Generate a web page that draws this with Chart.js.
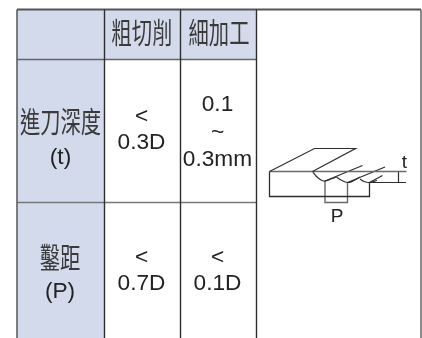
<!DOCTYPE html>
<html><head><meta charset="utf-8">
<style>html,body{margin:0;padding:0;background:#fff}canvas{display:block}</style>
<script src="https://cdn.jsdelivr.net/npm/chart.js@4"></script></head>
<body><canvas id="c" width="422" height="338"></canvas>
<script>
// table structure, in reference units
const columnEdges=[17,104.5,180.5,256.5,421];
const rowEdges=[9.5,59.5,202.5,338];
const headerRow=['粗切削','細加工'];
const rowLabels=[['進刀深度','(t)'],['鑿距','(P)']];
const roughValues=[['<','0.3D'],['<','0.7D']];
const fineValues=[['0.1','~','0.3mm'],['<','0.1D']];
const shadeOutline=[[17,9.5],[256.5,9.5],[256.5,59.5],[104.5,59.5],[104.5,338],[17,338],[17,9.5]];
// diagram outlines
const bladeTop=[[269.5,171.5],[314.5,148.5],[355.5,148.5],[312.5,171.5]];
const surface=[[269.5,171.5],[406.5,171.5]];
const body=[[269.5,171.5],[269.5,196.5],[369.5,196.5],[369.5,182.5]];
const depthLine=[[369.5,182.5],[406,182.5]];
const depthArrow=[[398.5,171.5],[398.5,182.5]];
const cut1=[[312.5,171.5],[316,176],[321,180],[325,181],[331,179],[336.5,177]];
const cut2=[[336.5,177],[341,180],[347.5,182.5],[353,181],[360,177]];
const cut3=[[360,179],[364,181.5],[369.5,182.5],[377,180.5]];
const tool1=[[325,181],[362.5,165.5]];
const tool2=[[347.5,182.5],[385,167]];
const tool3=[[369.5,182.5],[382.5,175.5]];
const pLeft=[[325,181],[325,202.5],[347.5,202.5],[347.5,182.5]];

const ink='#2e2e2e', grey='#6a6a6a';
function pts(a){return a.map(p=>({x:p[0],y:p[1]}));}
function line(a,color,w,t){return {type:'scatter',data:pts(a),showLine:true,borderColor:color,borderWidth:w,pointRadius:0,tension:t||0,fill:false,order:1};}
const datasets=[
 {type:'scatter',data:pts(shadeOutline),showLine:true,borderWidth:0,borderColor:'transparent',backgroundColor:'#d3daec',pointRadius:0,fill:'shape',order:9},
 line([[columnEdges[0],rowEdges[0]],[columnEdges[0],rowEdges[3]]],'#555',1.5),
 line([[columnEdges[1],rowEdges[0]],[columnEdges[1],rowEdges[3]]],ink,1.4),
 line([[columnEdges[2],rowEdges[0]],[columnEdges[2],rowEdges[3]]],ink,1.4),
 line([[columnEdges[3],rowEdges[0]],[columnEdges[3],rowEdges[3]]],ink,1.4),
 line([[columnEdges[4],rowEdges[0]],[columnEdges[4],rowEdges[3]]],'#666',1.5),
 line([[columnEdges[0],rowEdges[0]],[columnEdges[4],rowEdges[0]]],'#555',1.8),
 line([[columnEdges[0],rowEdges[1]],[columnEdges[3],rowEdges[1]]],'#666',1.4),
 line([[columnEdges[0],rowEdges[2]],[columnEdges[3],rowEdges[2]]],'#777',1.5),
 line(bladeTop,ink,1.2),line(surface,grey,1.4),line(body,ink,1.3),line(depthLine,ink,1.2),line(depthArrow,ink,1.2),
 line(cut1,ink,1.2,.4),line(cut2,ink,1.2,.4),line(cut3,ink,1.2,.4),line(tool1,ink,1.2),line(tool2,ink,1.2),line(tool3,ink,1.2),line(pLeft,grey,1.4)
];
const latin='"Liberation Sans"', cjk='"Noto Sans CJK TC"';
const textItems=[
 {t:headerRow[0],x:142,y:33,cjk:1},{t:headerRow[1],x:219,y:33,cjk:1},
 {t:rowLabels[0][0],x:60.5,y:122,cjk:1},{t:rowLabels[0][1],x:60.5,y:158},
 {t:rowLabels[1][0],x:60,y:258,cjk:1},{t:rowLabels[1][1],x:60,y:292},
 {t:roughValues[0][0],x:141.5,y:117},{t:roughValues[0][1],x:141.5,y:143},
 {t:roughValues[1][0],x:141.5,y:258},{t:roughValues[1][1],x:141.5,y:284},
 {t:fineValues[0][0],x:217.5,y:105},{t:fineValues[0][1],x:217.5,y:133},{t:fineValues[0][2],x:217.5,y:160},
 {t:fineValues[1][0],x:217.5,y:258},{t:fineValues[1][1],x:217.5,y:284},
 {t:'P',x:337,y:217,small:1},{t:'t',x:404.5,y:163,small:1}
];
const tablePlugin={id:'tableText',afterDatasetsDraw(ch){
 const c=ch.ctx,X=ch.scales.x,Y=ch.scales.y;
 textItems.forEach(i=>{
  c.save();
  c.translate(X.getPixelForValue(i.x),Y.getPixelForValue(i.y));
  const sx=i.cjk?0.7:(i.small?1.0:1.03);
  c.scale(sx,1);
  c.font=i.cjk?('29px '+cjk):(i.small?'19px '+latin:'22px '+latin);
  c.fillStyle=i.cjk?'#3a3a3a':'#222';
  c.textAlign='center';c.textBaseline='middle';
  c.fillText(i.t,0,0);
  c.restore();
 });
}};
new Chart(document.getElementById('c'),{
 type:'scatter',data:{datasets},plugins:[tablePlugin],
 options:{responsive:false,animation:false,layout:{padding:0},
  plugins:{legend:{display:false},title:{display:false},tooltip:{enabled:false}},
  scales:{x:{type:'linear',min:0,max:422,display:false},y:{type:'linear',min:0,max:338,reverse:true,display:false}}}
});
</script></body></html>
